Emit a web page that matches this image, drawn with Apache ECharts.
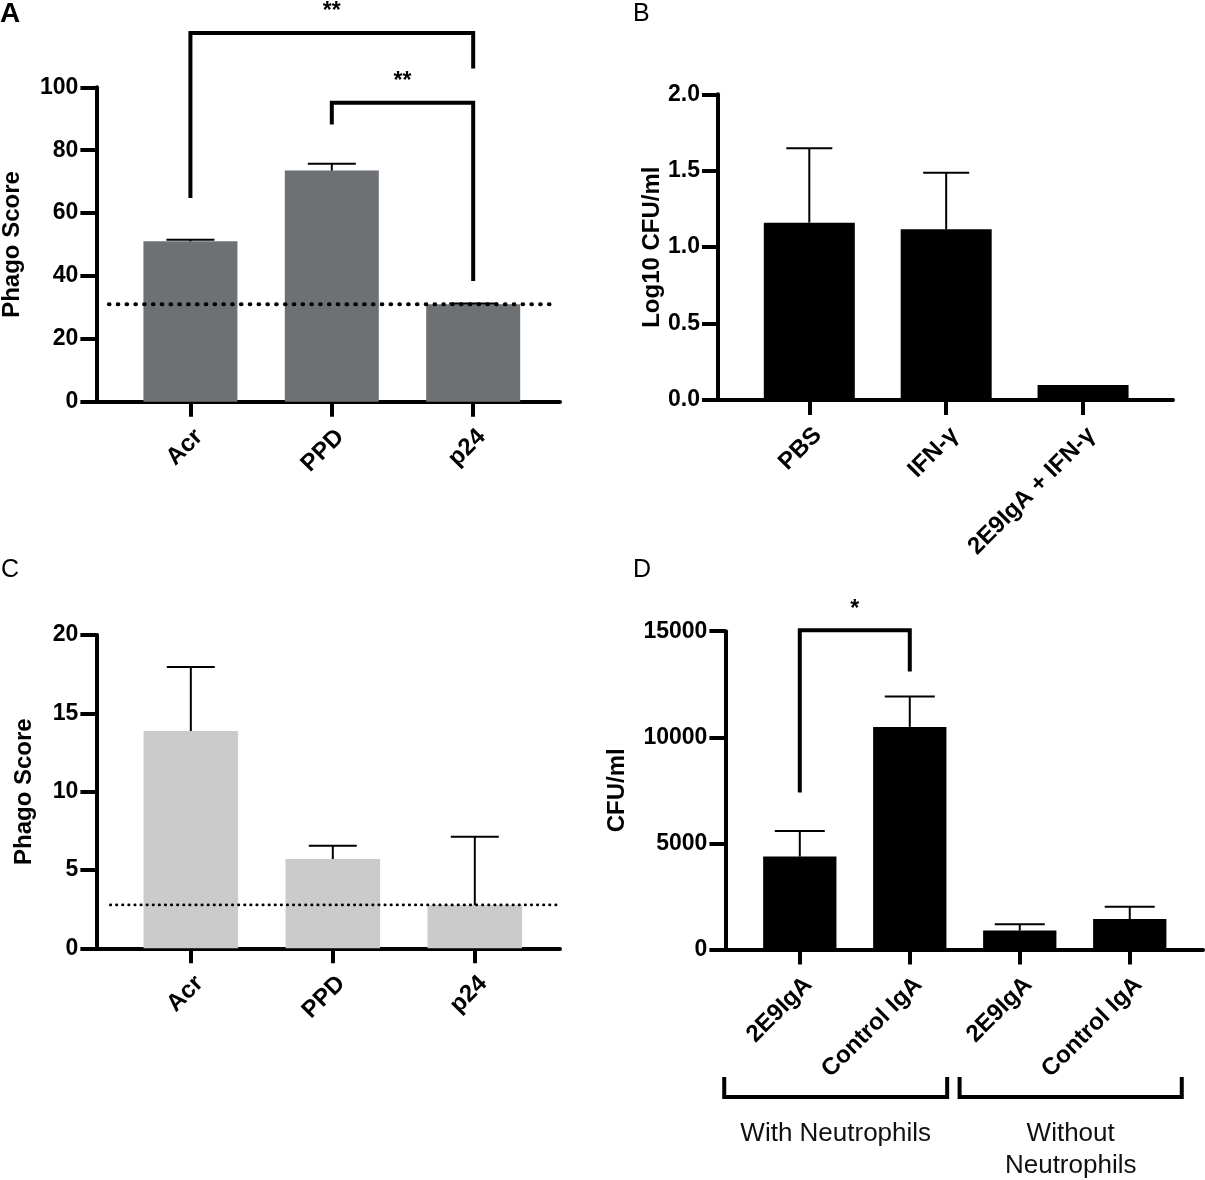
<!DOCTYPE html>
<html>
<head>
<meta charset="utf-8">
<script src="https://cdn.jsdelivr.net/npm/echarts@6/dist/echarts.min.js"></script>
<style>html,body{margin:0;padding:0;background:#fff}#c{width:1205px;height:1180px}</style>
</head>
<body>
<div id="c"></div>
<script>
// ---------- DATA ----------
const aCats = ['Acr', 'PPD', 'p24'];
const aMean = [51.0, 73.5, 31.0];
const aUpper = [51.5, 75.7, 31.2];
const aThreshold = 31.0;
// significance brackets: [fromCat, toCat, topValue, leftEndValue, rightEndValue]
const aSig = [[1, 3, 117.3, 64.8, 106.0], [2, 3, 95.1, 88.2, 38.4]];
const aSigText = ['**', '**'];
const aTicks = [0, 20, 40, 60, 80, 100];

const bCats = ['PBS', 'IFN-γ', '2E9IgA + IFN-γ'];
const bMean = [1.16, 1.117, 0.098];
const bUpper = [1.647, 1.487, null];
const bTicks = [0, 0.5, 1.0, 1.5, 2.0];

const cCats = ['Acr', 'PPD', 'p24'];
const cMean = [13.87, 5.70, 2.76];
const cUpper = [17.95, 6.55, 7.12];
const cThreshold = 2.77;
const cTicks = [0, 5, 10, 15, 20];

const dCats = ['2E9IgA', 'Control IgA', '2E9IgA', 'Control IgA'];
const dMean = [4378, 10490, 895, 1437];
const dUpper = [5589, 11927, 1192, 2012];
const dSig = [[1, 2, 15040, 7400, 13100]];
const dSigText = ['*'];
const dGroups = ['With Neutrophils', 'Without\nNeutrophils'];
const dGroupSpans = [[0.313, 2.34], [2.453, 4.473]];
const dTicks = [0, 5000, 10000, 15000];

// ---------- STYLE ----------
const FONT = '"Liberation Sans", Arial, Helvetica, sans-serif';
const AXW = 4;

function xAxisOf(gi, cats, min, max) {
  const vals = cats.map((_, i) => i + 1);
  return {
    gridIndex: gi, type: 'value', min: min, max: max,
    axisLine: { show: true, onZero: false, lineStyle: { color: '#000', width: AXW } },
    axisTick: { show: true, customValues: vals, length: 15, lineStyle: { color: '#000', width: AXW } },
    axisLabel: {
      show: true, customValues: vals, rotate: 45, align: 'right', verticalAlign: 'top', margin: 23,
      fontFamily: FONT, fontWeight: 'bold', fontSize: 24, color: '#000',
      formatter: v => cats[Math.round(v) - 1] || ''
    },
    splitLine: { show: false }
  };
}
function yAxisOf(gi, ticks, name, nameGap, fmt) {
  return {
    gridIndex: gi, type: 'value', min: ticks[0], max: ticks[ticks.length - 1],
    interval: ticks[1] - ticks[0],
    axisLine: { show: true, lineStyle: { color: '#000', width: AXW } },
    axisTick: { show: true, length: 16, lineStyle: { color: '#000', width: AXW } },
    axisLabel: { margin: 18, fontFamily: FONT, fontWeight: 'bold', fontSize: 23, color: '#000', formatter: fmt },
    splitLine: { show: false },
    name: name, nameLocation: 'middle', nameRotate: 90, nameGap: nameGap, nameMoveOverlap: false,
    nameTextStyle: { fontFamily: FONT, fontWeight: 'bold', fontSize: 24, color: '#000' }
  };
}
function barSeries(gi, mean, color, width) {
  return {
    type: 'bar', xAxisIndex: gi, yAxisIndex: gi, barWidth: width, z: 2,
    data: mean.map((v, i) => [i + 1, v]),
    itemStyle: { color: color }, silent: true
  };
}
function errSeries(gi, mean, upper, hw) {
  const data = [];
  upper.forEach((u, i) => { if (u != null) data.push([i + 1, mean[i], u]); });
  return {
    type: 'custom', xAxisIndex: gi, yAxisIndex: gi, z: 5, clip: false, silent: true,
    encode: { x: 0, y: [1, 2] }, data: data,
    renderItem: (params, api) => {
      const x = api.value(0), m = api.value(1), u = api.value(2);
      const p0 = api.coord([x, m]), p1 = api.coord([x, u]);
      return { type: 'group', children: [
        { type: 'line', shape: { x1: p0[0], y1: p0[1], x2: p1[0], y2: p1[1] }, style: { stroke: '#000', lineWidth: 2 } },
        { type: 'line', shape: { x1: p1[0] - hw, y1: p1[1], x2: p1[0] + hw, y2: p1[1] }, style: { stroke: '#000', lineWidth: 2 } }
      ] };
    }
  };
}
function thresholdSeries(gi, thr, xs, xe, width, gap) {
  return {
    type: 'line', xAxisIndex: gi, yAxisIndex: gi, z: 4, silent: true, symbol: 'none',
    data: [[xs, thr], [xe, thr]],
    lineStyle: { color: '#000', width: width, type: [0.5, gap], cap: 'round' }
  };
}
function sigSeries(gi, sig, texts) {
  return {
    type: 'custom', xAxisIndex: gi, yAxisIndex: gi, z: 6, clip: false, silent: true,
    encode: { x: [0, 1], y: [2, 3, 4] }, data: sig,
    renderItem: (params, api) => {
      const x1 = api.value(0), x2 = api.value(1), yt = api.value(2), yl = api.value(3), yr = api.value(4);
      const a = api.coord([x1, yl]), b = api.coord([x1, yt]), c = api.coord([x2, yt]), d = api.coord([x2, yr]);
      return { type: 'group', children: [
        { type: 'polyline', shape: { points: [a, b, c, d] }, style: { stroke: '#000', lineWidth: AXW, fill: null } },
        { type: 'text', x: (b[0] + c[0]) / 2, y: b[1] - 21,
          style: { text: texts[params.dataIndex], fontFamily: FONT, fontWeight: 'bold', fontSize: 23, fill: '#000', align: 'center', verticalAlign: 'middle' } }
      ] };
    }
  };
}
function groupSeries(gi, spans, labels) {
  return {
    type: 'custom', xAxisIndex: gi, yAxisIndex: gi, z: 6, clip: false, silent: true,
    encode: { x: [0, 1] }, data: spans,
    renderItem: (params, api) => {
      const a = api.coord([api.value(0), 0]), b = api.coord([api.value(1), 0]);
      const y = a[1] + 147.5;
      return { type: 'group', children: [
        { type: 'polyline', shape: { points: [[a[0], y - 20], [a[0], y], [b[0], y], [b[0], y - 20]] }, style: { stroke: '#000', lineWidth: AXW, fill: null } },
        { type: 'text', x: (a[0] + b[0]) / 2, y: y + 21,
          style: { text: labels[params.dataIndex], fontFamily: FONT, fontSize: 26, lineHeight: 32, fill: '#111', align: 'center', verticalAlign: 'top' } }
      ] };
    }
  };
}

const option = {
  animation: false,
  backgroundColor: '#fff',
  grid: [
    { left: 96.4, right: 645, top: 87.3, bottom: 778.3, containLabel: false, outerBoundsMode: 'none' },
    { left: 718, right: 32, top: 94.3, bottom: 780, containLabel: false, outerBoundsMode: 'none' },
    { left: 96.4, right: 645, top: 635, bottom: 231.7, containLabel: false, outerBoundsMode: 'none' },
    { left: 725.4, right: 2, top: 631.2, bottom: 230.5, containLabel: false, outerBoundsMode: 'none' }
  ],
  xAxis: [
    xAxisOf(0, aCats, 0.335, 3.614),
    xAxisOf(1, bCats, 0.333, 3.657),
    xAxisOf(2, cCats, 0.335, 3.6),
    xAxisOf(3, dCats, 0.3236, 4.666)
  ],
  yAxis: [
    yAxisOf(0, aTicks, 'Phago Score', 72, v => String(v)),
    yAxisOf(1, bTicks, 'Log10 CFU/ml', 54, v => v.toFixed(1)),
    yAxisOf(2, cTicks, 'Phago Score', 60, v => String(v)),
    yAxisOf(3, dTicks, 'CFU/ml', 96, v => String(v))
  ],
  series: [
    barSeries(0, aMean, '#6e7173', 94),
    errSeries(0, aMean, aUpper, 24),
    thresholdSeries(0, aThreshold, 0.424, 3.543, 4.2, 8.3),
    sigSeries(0, aSig, aSigText),

    barSeries(1, bMean, '#000', 91),
    errSeries(1, bMean, bUpper, 23),

    barSeries(2, cMean, '#cbcbcb', 94.6),
    errSeries(2, cMean, cUpper, 24),
    thresholdSeries(2, cThreshold, 0.433, 3.585, 2.6, 5.6),

    barSeries(3, dMean, '#000', 73.3),
    errSeries(3, dMean, dUpper, 25),
    sigSeries(3, dSig, dSigText),
    groupSeries(3, dGroupSpans, dGroups)
  ],
  graphic: [
    { type: 'text', left: 0, top: 0, style: { text: 'A', fontFamily: FONT, fontWeight: 'bold', fontSize: 28, fill: '#000' } },
    { type: 'text', left: 633, top: 2, style: { text: 'B', fontFamily: FONT, fontSize: 25, fill: '#000' } },
    { type: 'text', left: 1, top: 558, style: { text: 'C', fontFamily: FONT, fontSize: 25, fill: '#000' } },
    { type: 'text', left: 633, top: 558, style: { text: 'D', fontFamily: FONT, fontSize: 25, fill: '#000' } }
  ]
};
const chart = echarts.init(document.getElementById('c'), null, { renderer: 'canvas' });
chart.setOption(option);
</script>
</body>
</html>
